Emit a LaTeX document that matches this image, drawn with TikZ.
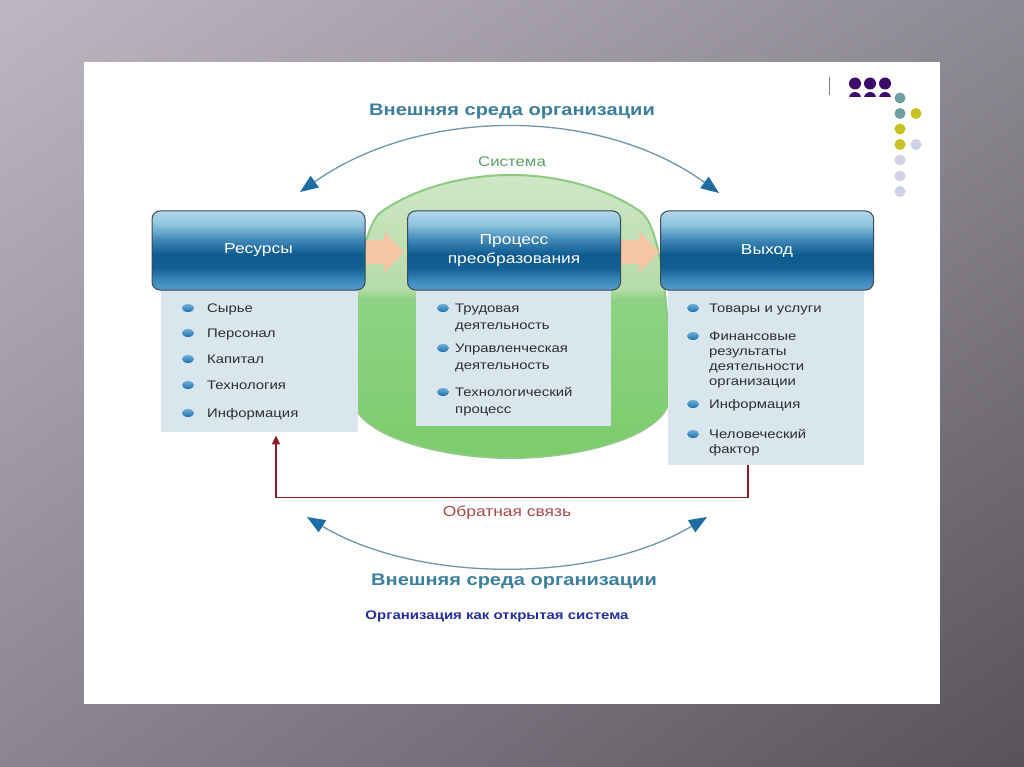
\documentclass[tikz,border=0pt]{standalone}
\usepackage{fontspec}
\setmainfont{Liberation Sans}[FakeStretch=1.2]
\usetikzlibrary{arrows.meta,shapes.geometric,shadings}
\definecolor{bgUL}{HTML}{BCB7C0}
\definecolor{bgUR}{HTML}{8E8A93}
\definecolor{bgLL}{HTML}{8A8590}
\definecolor{bgLR}{HTML}{58535A}
\definecolor{h1}{HTML}{B3D8EA}
\definecolor{h2}{HTML}{8CC1DD}
\definecolor{h3}{HTML}{3F86B6}
\definecolor{h4}{HTML}{0D5B8E}
\definecolor{h5}{HTML}{145F93}
\definecolor{h6}{HTML}{3A88BD}
\definecolor{h7}{HTML}{5A9CCC}
\definecolor{hdrBorder}{HTML}{3A4A56}
\definecolor{gB}{HTML}{7CCC6C}
\definecolor{gM}{HTML}{8ED383}
\definecolor{gL2}{HTML}{B6DCAA}
\definecolor{gT}{HTML}{CFE7C6}
\definecolor{gRim}{HTML}{8FCA82}
\definecolor{cboxc}{HTML}{D9E6EE}
\definecolor{peach}{HTML}{F5C5A5}
\definecolor{bodyc}{HTML}{2E2E2E}
\definecolor{titlec}{HTML}{3B7F9C}
\definecolor{sysc}{HTML}{5E9E63}
\definecolor{fbc}{HTML}{8B1C24}
\definecolor{fbtext}{HTML}{A9474A}
\definecolor{capc}{HTML}{22309F}
\definecolor{arcc}{HTML}{6E96B0}
\definecolor{tipc}{HTML}{1B6DA3}
\definecolor{bulT}{HTML}{6FB0DC}
\definecolor{bulB}{HTML}{1F6FA8}
\definecolor{dotP}{HTML}{3B0A6B}
\definecolor{dotT}{HTML}{6E9EA0}
\definecolor{dotY}{HTML}{C8C020}
\definecolor{dotL}{HTML}{D0D0E6}
\pgfdeclareverticalshading{hdrsh}{100bp}{color(0bp)=(h7); color(25bp)=(h7); color(31.3bp)=(h6); color(39bp)=(h5); color(47.2bp)=(h4); color(56.6bp)=(h3); color(66bp)=(h2); color(75bp)=(h1); color(100bp)=(h1)}
\pgfdeclareverticalshading{greensh}{100bp}{color(0bp)=(gB); color(25bp)=(gB); color(53bp)=(gM); color(55bp)=(gL2); color(75bp)=(gT); color(100bp)=(gT)}
\newcommand{\fsz}[2]{\fontsize{#1}{#2}\selectfont}
\tikzset{
  hdr/.style={draw=hdrBorder, line width=1pt, rounded corners=8pt, shade, shading=hdrsh,
    text=white, font=\fsz{14.5}{19}, align=center, minimum width=213pt, minimum height=79pt, inner sep=0pt},
  cbox/.style={fill=cboxc, draw=none, anchor=north west, inner sep=0pt},
  bul/.style={ellipse, inner sep=0pt, minimum width=12pt, minimum height=8pt, shade, top color=bulT, bottom color=bulB},
  item/.style={anchor=north west, inner sep=0pt, text=bodyc, align=left, font=\fsz{12.4}{15}},
  envarc/.style={draw=arcc, line width=1.3pt, {Triangle[length=18pt,width=14pt,color=tipc,fill=tipc]}-{Triangle[length=18pt,width=14pt,color=tipc,fill=tipc]}},
  fbline/.style={draw=fbc, line width=1.6pt, -{Triangle[length=9pt,width=8pt]}},
  ttl/.style={text=titlec, font=\bfseries\fsz{16.7}{19}, inner sep=0pt},
}
\begin{document}
\begin{tikzpicture}[x=1pt,y=-1pt]
\useasboundingbox (0,0) rectangle (1024,767);
\shade[upper left=bgUL, upper right=bgUR, lower left=bgLL, lower right=bgLR] (0,0) rectangle (1024,767);
\fill[white] (84,62) rectangle (940,704);

% decorative dots
\draw[gray, line width=1pt] (829,77) -- (829,95);
\foreach \x in {855,870,885} \fill[dotP] (\x,83.5) circle (6);
\begin{scope}
\clip (840,89) rectangle (895,96.5);
\foreach \x in {855,870,885} \fill[dotP] (\x,98) circle (6);
\end{scope}
\fill[dotT] (900,98) circle (5.5);
\fill[dotT] (900,113.5) circle (5.5);
\fill[dotY] (916,113.5) circle (5.5);
\fill[dotY] (900,129) circle (5.5);
\fill[dotY] (900,144.5) circle (5.5);
\fill[dotL] (916,144.5) circle (5.5);
\fill[dotL] (900,160) circle (5.5);
\fill[dotL] (900,176) circle (5.5);
\fill[dotL] (900,191.5) circle (5.5);

% system shape
\shade[shading=greensh, draw=gRim, line width=2pt]
  (511,175) .. controls (460,175) and (412,190) .. (381,212)
  .. controls (358,230) and (352,330) .. (352,395)
  .. controls (352,435) and (440,458) .. (511,458)
  .. controls (582,458) and (670,435) .. (670,395)
  .. controls (670,330) and (664,230) .. (641,212)
  .. controls (610,190) and (562,175) .. (511,175) -- cycle;

% flow arrows
\fill[peach] (366,240) -- (384,240) -- (384,231) -- (404,252) -- (384,273) -- (384,264) -- (366,264) -- cycle;
\fill[peach] (621,240) -- (639,240) -- (639,231) -- (659,252) -- (639,273) -- (639,264) -- (621,264) -- cycle;

% content boxes
\node[cbox, minimum width=197pt, minimum height=142pt] (c1) at (161,290) {};
\node[cbox, minimum width=195pt, minimum height=136pt] (c2) at (416,290) {};
\node[cbox, minimum width=196pt, minimum height=175pt] (c3) at (668,290) {};

% headers
\node[hdr] (h1n) at (258.5,250.5) {Ресурсы};
\node[hdr] (h2n) at (514,250.5) {Процесс\\преобразования};
\node[hdr] (h3n) at (767,250.5) {Выход};

% items: resources
\node[bul] (b11) at (188,308) {};
\node[item] (t11) at (207,303.5) {Сырье};
\node[bul] (b12) at (188,333) {};
\node[item] (t12) at (207,328.5) {Персонал};
\node[bul] (b13) at (188,359) {};
\node[item] (t13) at (207,354.5) {Капитал};
\node[bul] (b14) at (188,385) {};
\node[item] (t14) at (207,380.5) {Технология};
\node[bul] (b15) at (188,413) {};
\node[item] (t15) at (207,408.5) {Информация};

% items: process
\node[bul] (b21) at (443,308) {};
\node[item, font=\fsz{12.4}{17.5}] (t21) at (455,303.5) {Трудовая\\деятельность};
\node[bul] (b22) at (443,348) {};
\node[item, font=\fsz{12.4}{17.5}] (t22) at (455,343.5) {Управленческая\\деятельность};
\node[bul] (b23) at (443,392) {};
\node[item, font=\fsz{12.4}{17}] (t23) at (455,387.5) {Технологический\\процесс};

% items: output
\node[bul] (b31) at (693,308) {};
\node[item] (t31) at (709,303.5) {Товары и услуги};
\node[bul] (b32) at (693,336) {};
\node[item] (t32) at (709,331.5) {Финансовые\\результаты\\деятельности\\организации};
\node[bul] (b33) at (693,404) {};
\node[item] (t33) at (709,399.5) {Информация};
\node[bul] (b34) at (693,434) {};
\node[item] (t34) at (709,429.5) {Человеческий\\фактор};

% feedback
\draw[fbline, shorten >=3pt] ([xshift=80pt]c3.south west) -- ++(0,32) -| ([xshift=115pt]c1.south west);
\node[text=fbtext, font=\fsz{14.5}{17}, inner sep=0pt] (fbl) at (507,513) {Обратная связь};

% environment arcs
\coordinate (tl) at (300,192);
\coordinate (tr) at (719,193);
\coordinate (bl) at (307,517);
\coordinate (br) at (707,517);
\draw[envarc] (tl) .. controls (422,106.5) and (600,106.5) .. (tr);
\draw[envarc] (bl) .. controls (418,583.7) and (596,583.7) .. (br);

% titles
\node[ttl] (ttop) at (512,111) {Внешняя среда организации};
\node[text=sysc, font=\fsz{14}{17}, inner sep=0pt] (sys) at (512,162) {Система};
\node[ttl] (tbot) at (514,581) {Внешняя среда организации};
\node[text=capc, font=\bfseries\fsz{12.5}{15}, inner sep=0pt] (cap) at (497,616) {Организация как открытая система};
\end{tikzpicture}
\end{document}
